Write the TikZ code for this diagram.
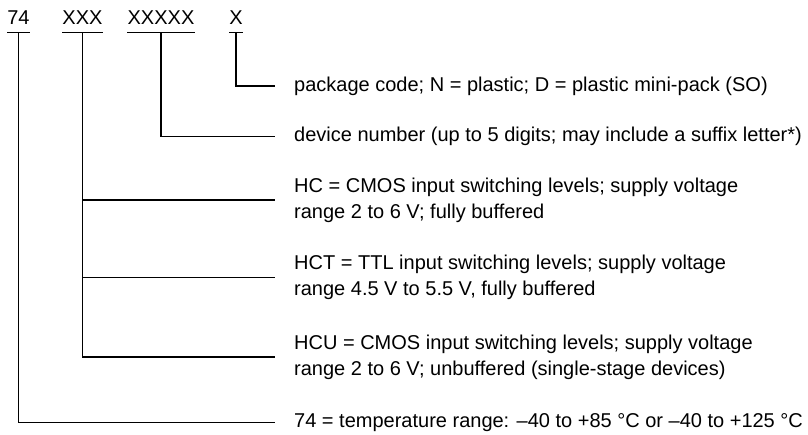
\documentclass[tikz,border=0pt]{standalone}
\usepackage{fontspec}
\setmainfont{Liberation Sans}
\usepackage{tikz}

\begin{document}
\begin{tikzpicture}[x=1pt, y=-1pt,
		head/.style={anchor=base, inner xsep=0pt, inner ysep=7pt,
			font=\fontsize{20}{24}\selectfont},
		info/.style={anchor=west, inner sep=0pt, align=left,
			font=\fontsize{20}{26}\selectfont},
		wire/.style={line width=1.2pt},
		gap/.style={xshift=-19pt}]
	\useasboundingbox (0,0) rectangle (808,435);
	% Kopfzeile
	\node[head] (h74) at (18.5,25) {74};
	\node[head] (hfam) at (82.5,25) {XXX};
	\node[head] (hdev) at (161,25) {XXXXX};
	\node[head] (hpkg) at (236,25) {X};
	\foreach \n in {h74,hfam,hdev,hpkg}
		\draw[wire] (\n.south west) -- (\n.south east);
	% Erklaerungen
	\node[info] (tpkg) at (294,86) {package code; N = plastic; D = plastic mini-pack (SO)};
	\node[info] (tdev) at (294,136.5) {device number (up to 5 digits; may include a suffix letter*)};
	\node[info] (thc) at (294,200) {HC = CMOS input switching levels; supply voltage\\range 2 to 6 V; fully buffered};
	\node[info] (thct) at (294,277.5) {HCT = TTL input switching levels; supply voltage\\range 4.5 V to 5.5 V, fully buffered};
	\node[info] (thcu) at (294,357) {HCU = CMOS input switching levels; supply voltage\\range 2 to 6 V; unbuffered (single-stage devices)};
	\node[info] (ttemp) at (294,422.5) {74 = temperature range: –40 to +85 °C or –40 to +125 °C};
	% Verbindungen
	\draw[wire] (hpkg.south) |- ([gap]tpkg.west);
	\draw[wire] (hdev.south) |- ([gap]tdev.west);
	\draw[wire] (hfam.south) |- ([gap]thcu.west);
	\draw[wire] (hfam.south |- thc.west) -- ([gap]thc.west);
	\draw[wire] (hfam.south |- thct.west) -- ([gap]thct.west);
	\draw[wire] (h74.south) |- ([gap]ttemp.west);
\end{tikzpicture}
\end{document}
